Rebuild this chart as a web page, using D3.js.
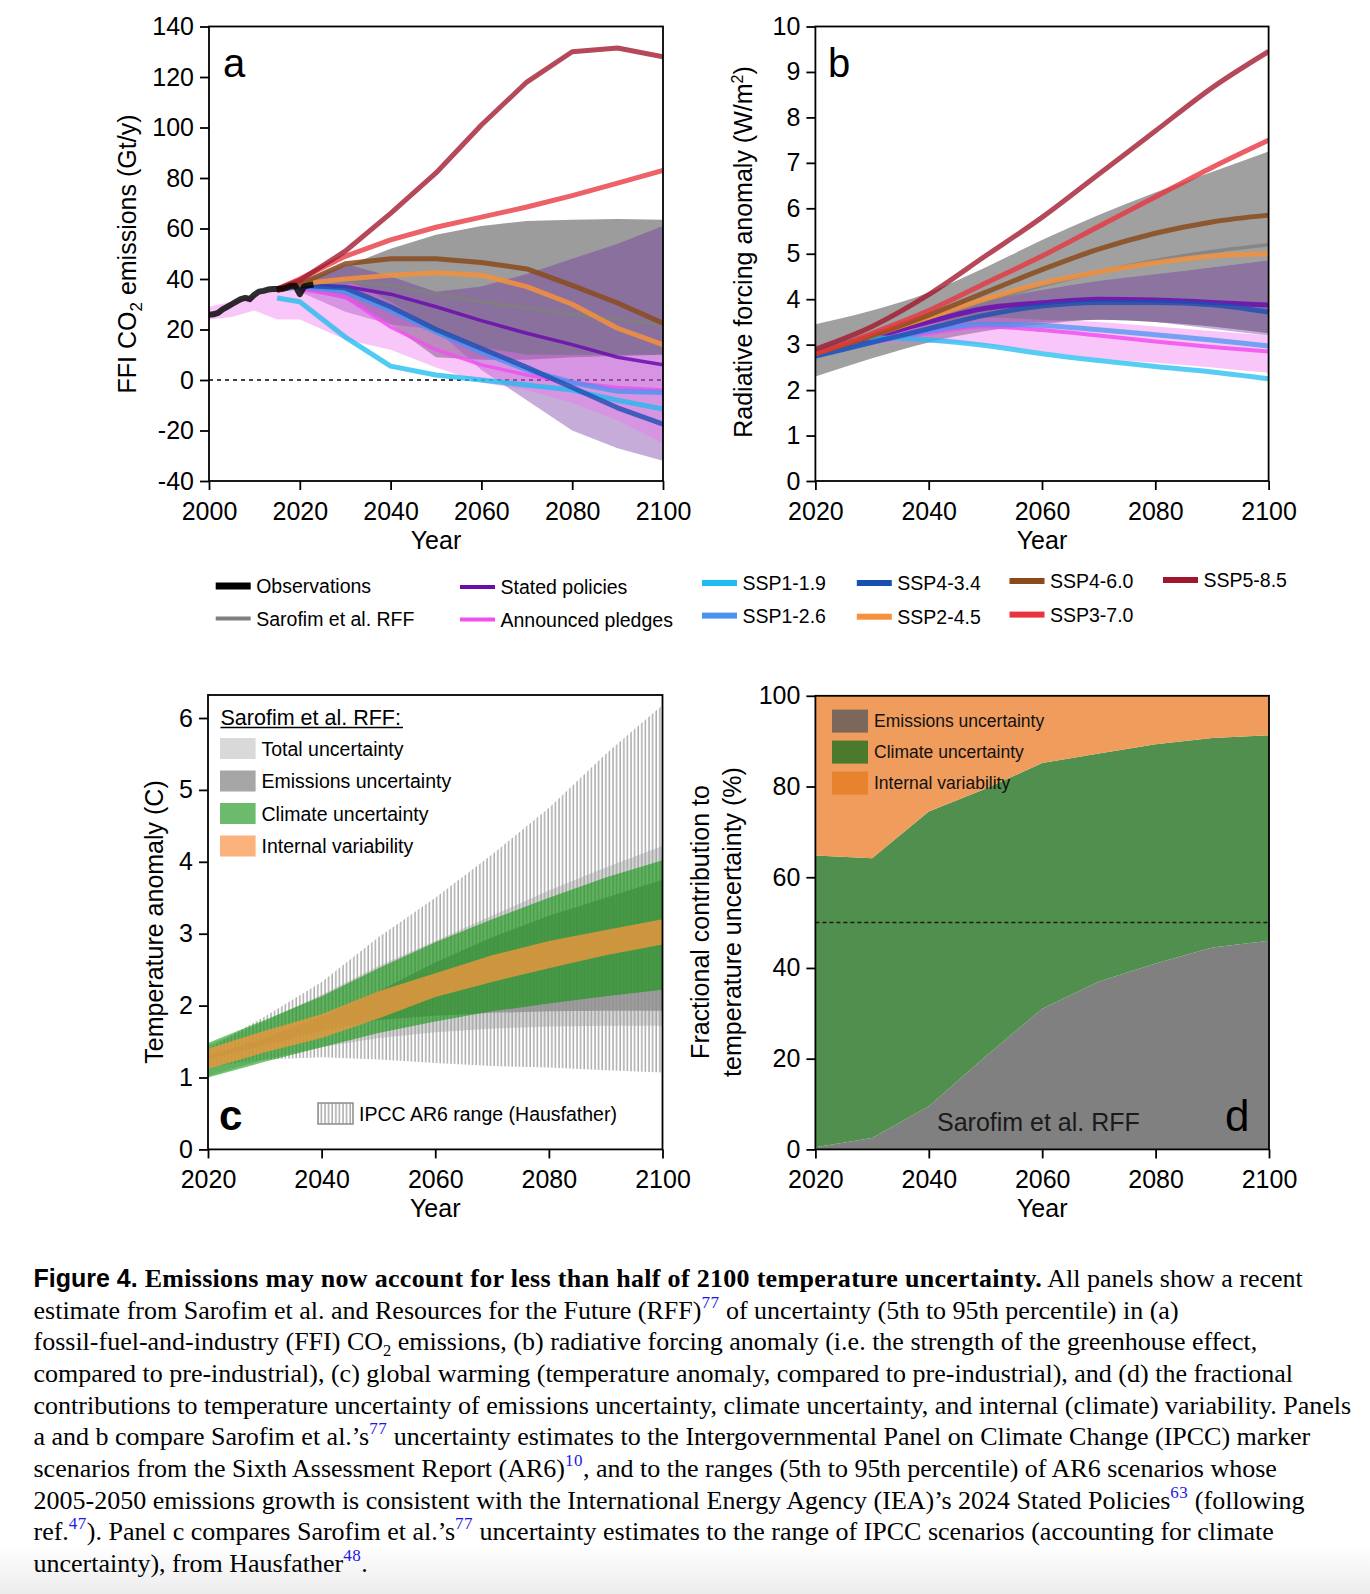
<!DOCTYPE html>
<html>
<head>
<meta charset="utf-8">
<script src="https://cdn.jsdelivr.net/npm/d3@7"></script>
<style>
  body { margin: 0; background: #fff; }
  svg { display: block; }
</style>
</head>
<body>
<svg id="fig" width="1370" height="1594"></svg>
<script>
// ---------------- data ----------------
var decades = [2020, 2030, 2040, 2050, 2060, 2070, 2080, 2090, 2100];
var sspYears = [2015, 2020, 2030, 2040, 2050, 2060, 2070, 2080, 2090, 2100];

// panel a: FFI CO2 emissions (Gt/y)
var obsYears = [2000, 2001, 2002, 2003, 2004, 2005, 2006, 2007, 2008, 2009, 2010, 2011,
                2012, 2013, 2014, 2015, 2016, 2017, 2018, 2019, 2020, 2021, 2022, 2023];
var obsCO2 = [25.8, 26, 26.6, 28, 29, 30, 31, 32, 32.5, 32, 33.8, 35, 35.3, 35.8, 36,
              36, 36.1, 36.6, 37.3, 37.3, 34, 37.1, 37.5, 37.8];
var ssp119A = [32.5, 31, 17, 5.5, 2, 0, -2, -4, -8, -11.5];
var ssp126A = [35.5, 37, 35, 27.5, 19, 11, 4, -1, -4.5, -5];
var ssp245A = [35.5, 38, 40, 41.5, 42.5, 41.5, 37, 30, 20.5, 14];
var ssp334A = [35.5, 37.5, 36.5, 29, 20, 12.5, 5, -3, -11, -17.5];
var ssp460A = [35.5, 38, 46, 48, 48, 46.5, 44, 37.5, 30.5, 22.5];
var ssp370A = [36, 40, 49, 55.5, 60.5, 64.5, 68.5, 73, 78, 83];
var ssp585A = [36, 39.5, 51, 66, 82, 101, 118, 130, 131.5, 128];
var statedA = [37.5, 37, 34, 29, 23.5, 18.5, 14, 9, 6];
var pledgesA = [36, 33, 21, 12, 6, 2, -1, -3, -4];
var sarofimA = [38, 39, 37.5, 34, 31, 28.5, 26, 24, 22];
var sarofimAHi = [38.5, 45, 52, 57.5, 61, 63, 63.5, 63.8, 63.5];
var sarofimALo = [36, 32, 22, 9, 8, 8, 9, 9.5, 10];
var statedAHi = [39, 46, 41, 35, 37, 42, 48, 54, 61];
var statedALo = [35, 27, 22, 20, 4, -8, -20, -27, -32];
var pledgeBandYears = [2000, 2005, 2010, 2015, 2020, 2025, 2030, 2040, 2050, 2060, 2070, 2080, 2090, 2100];
var pledgesAHi = [29, 31, 33.5, 35.5, 37.5, 39, 40, 31, 20, 13, 10, 10, 10, 10];
var pledgesALo = [24, 25, 27.5, 24, 24, 20, 16, 12, 5, -1, -4, -9, -16, -25];

// panel b: radiative forcing anomaly (W/m2)
var ssp119B = [2.85, 3.15, 3.1, 2.98, 2.8, 2.65, 2.52, 2.4, 2.25];
var ssp126B = [2.75, 3.05, 3.3, 3.45, 3.42, 3.33, 3.22, 3.1, 2.97];
var ssp245B = [2.8, 3.2, 3.6, 4.0, 4.35, 4.6, 4.8, 4.95, 5.0];
var ssp334B = [2.75, 3.05, 3.35, 3.65, 3.85, 3.93, 3.93, 3.88, 3.72];
var ssp460B = [2.8, 3.2, 3.65, 4.15, 4.65, 5.1, 5.45, 5.7, 5.85];
var ssp370B = [2.8, 3.25, 3.75, 4.35, 4.95, 5.6, 6.25, 6.9, 7.5];
var ssp585B = [2.9, 3.4, 4.1, 4.95, 5.8, 6.75, 7.7, 8.65, 9.45];
var statedB = [2.8, 3.15, 3.5, 3.8, 3.92, 4.0, 3.98, 3.93, 3.87];
var pledgesB = [2.75, 3.05, 3.25, 3.4, 3.32, 3.2, 3.07, 2.95, 2.85];
var sarofimB = [2.85, 3.2, 3.6, 3.95, 4.3, 4.6, 4.85, 5.05, 5.2];
var sarofimBHi = [3.45, 3.75, 4.15, 4.7, 5.3, 5.85, 6.35, 6.8, 7.25];
var sarofimBLo = [2.3, 2.7, 3.05, 3.3, 3.45, 3.55, 3.5, 3.4, 3.25];
var statedBHi = [2.85, 3.2, 3.55, 3.95, 4.2, 4.4, 4.55, 4.7, 4.85];
var statedBLo = [2.7, 3.05, 3.25, 3.4, 3.5, 3.55, 3.5, 3.35, 3.2];
var pledgesBHi = [2.8, 3.15, 3.45, 3.6, 3.55, 3.5, 3.4, 3.3, 3.2];
var pledgesBLo = [2.7, 3.0, 3.05, 3.0, 2.85, 2.7, 2.6, 2.5, 2.38];

// panel c: temperature anomaly (C)
var ipccHi = [1.4, 1.85, 2.33, 2.95, 3.5, 4.1, 4.75, 5.5, 6.18];
var ipccLo = [1.15, 1.25, 1.28, 1.25, 1.2, 1.16, 1.14, 1.1, 1.07];
var totalHi = [1.45, 1.78, 2.15, 2.55, 2.9, 3.25, 3.6, 3.92, 4.22];
var totalLo = [1.02, 1.25, 1.42, 1.55, 1.63, 1.68, 1.71, 1.72, 1.72];
var emisHi = [1.3, 1.55, 1.85, 2.2, 2.6, 2.95, 3.25, 3.5, 3.75];
var emisLo = [1.25, 1.45, 1.65, 1.8, 1.86, 1.9, 1.92, 1.93, 1.93];
var climHi = [1.48, 1.8, 2.13, 2.52, 2.88, 3.2, 3.5, 3.78, 4.02];
var climLo = [1.0, 1.22, 1.42, 1.62, 1.78, 1.92, 2.03, 2.13, 2.22];
var internalHi = [1.4, 1.65, 1.88, 2.2, 2.45, 2.7, 2.9, 3.05, 3.2];
var internalLo = [1.12, 1.35, 1.55, 1.82, 2.12, 2.33, 2.52, 2.7, 2.85];

// panel d: fractional contribution (%)
var emisShare = [0.5, 2.5, 9.5, 20.5, 31, 37, 41, 44.5, 46];
var climShare = [64.3, 61.7, 65, 59, 54.2, 50.3, 48.3, 46.2, 45.3];
var internalShare = [35.2, 35.8, 25.5, 20.5, 14.8, 12.7, 10.7, 9.3, 8.7];

// tick labels
var ticksA_x = [2000, 2020, 2040, 2060, 2080, 2100];
var ticksA_y = [-40, -20, 0, 20, 40, 60, 80, 100, 120, 140];
var ticksB_x = [2020, 2040, 2060, 2080, 2100];
var ticksB_y = [0, 1, 2, 3, 4, 5, 6, 7, 8, 9, 10];
var ticksC_y = [0, 1, 2, 3, 4, 5, 6];
var ticksD_y = [0, 20, 40, 60, 80, 100];

// ---------------- helpers ----------------
var SANS = '"Liberation Sans", Arial, Helvetica, sans-serif';
var SERIF = '"Liberation Serif", "Times New Roman", Times, serif';
var svg = d3.select("#fig");
var defs = svg.append("defs");

function zip(xs, ys) { return xs.map(function (x, i) { return [x, ys[i]]; }); }
function band(xs, lo, hi) { return xs.map(function (x, i) { return [x, lo[i], hi[i]]; }); }

function setupPanel(id, box, xDom, yDom) {
  var x = d3.scaleLinear().domain(xDom).range([box.x0, box.x1]);
  var y = d3.scaleLinear().domain(yDom).range([box.y1, box.y0]);
  defs.append("clipPath").attr("id", "clip-" + id).append("rect")
      .attr("x", box.x0).attr("y", box.y0)
      .attr("width", box.x1 - box.x0).attr("height", box.y1 - box.y0);
  var g = svg.append("g").attr("class", "panel-" + id);
  var plot = g.append("g").attr("clip-path", "url(#clip-" + id + ")");
  return { box: box, x: x, y: y, g: g, plot: plot };
}

function finishAxes(p, xTicks, yTicks) {
  var xa = p.g.append("g").attr("transform", "translate(0," + p.box.y1 + ")")
      .call(d3.axisBottom(p.x).tickValues(xTicks).tickFormat(d3.format("d")).tickSize(9).tickPadding(12));
  var ya = p.g.append("g").attr("transform", "translate(" + p.box.x0 + ",0)")
      .call(d3.axisLeft(p.y).tickValues(yTicks).tickFormat(function (d) { return String(d); }).tickSize(9).tickPadding(6));
  [xa, ya].forEach(function (a) {
    a.select(".domain").remove();
    a.selectAll("line").attr("stroke", "#000").attr("stroke-width", 1.8);
    a.selectAll("text").attr("font-family", SANS).attr("font-size", 25).attr("fill", "#000");
  });
  p.g.append("rect")
      .attr("x", p.box.x0).attr("y", p.box.y0)
      .attr("width", p.box.x1 - p.box.x0).attr("height", p.box.y1 - p.box.y0)
      .attr("fill", "none").attr("stroke", "#000").attr("stroke-width", 1.8);
  p.g.append("text")
      .attr("x", (p.box.x0 + p.box.x1) / 2).attr("y", p.box.y1 + 68)
      .attr("text-anchor", "middle").attr("font-family", SANS).attr("font-size", 25)
      .text("Year");
}

function drawBand(p, data, fill, opacity, curve) {
  var area = d3.area()
      .x(function (d) { return p.x(d[0]); })
      .y0(function (d) { return p.y(d[1]); })
      .y1(function (d) { return p.y(d[2]); })
      .curve(curve || d3.curveLinear);
  p.plot.append("path").datum(data).attr("d", area)
      .attr("fill", fill).attr("fill-opacity", opacity);
}

function drawLine(p, data, color, width, opacity, curve) {
  var line = d3.line()
      .x(function (d) { return p.x(d[0]); })
      .y(function (d) { return p.y(d[1]); })
      .curve(curve || d3.curveLinear);
  p.plot.append("path").datum(data).attr("d", line)
      .attr("fill", "none").attr("stroke", color).attr("stroke-width", width)
      .attr("stroke-opacity", opacity).attr("stroke-linejoin", "round").attr("stroke-linecap", "butt");
}

function yTitle(x, yc, parts) {
  var t = svg.append("text")
      .attr("transform", "translate(" + x + "," + yc + ") rotate(-90)")
      .attr("text-anchor", "middle").attr("font-family", SANS).attr("font-size", 25);
  parts.forEach(function (pt) {
    var s = t.append("tspan").text(pt.t);
    if (pt.dy) s.attr("dy", pt.dy);
    if (pt.size) s.attr("font-size", pt.size);
  });
}

var colors = {
  ssp119: "#1fbcf0", ssp126: "#4a94f0", ssp334: "#1a4fb2", ssp245: "#f5913c",
  ssp460: "#8a4a1c", ssp370: "#e8343f", ssp585: "#a0162c",
  stated: "#6a0dad", pledges: "#f050f0", sarofim: "#808080", obs: "#000"
};

// ---------------- panel a ----------------
var pa = setupPanel("a", { x0: 209, x1: 663, y0: 26.5, y1: 481 }, [2000, 2100], [-40, 140]);
pa.plot.append("line")
    .attr("x1", pa.x(2000)).attr("x2", pa.x(2100)).attr("y1", pa.y(0)).attr("y2", pa.y(0))
    .attr("stroke", "#000").attr("stroke-width", 1.6).attr("stroke-dasharray", "4,4");
drawBand(pa, band(decades, sarofimALo, sarofimAHi), "#999999", 0.97);
drawBand(pa, band(decades, statedALo, statedAHi), "#7030a0", 0.4);
drawBand(pa, band(pledgeBandYears, pledgesALo, pledgesAHi), "#f070f0", 0.4);
drawLine(pa, zip(decades, sarofimA), colors.sarofim, 3.5, 0.8);
drawLine(pa, zip(decades, pledgesA), colors.pledges, 3.5, 0.85);
drawLine(pa, zip(decades, statedA), colors.stated, 3.5, 0.85);
drawLine(pa, zip(sspYears, ssp119A), colors.ssp119, 5, 0.78);
drawLine(pa, zip(sspYears, ssp126A), colors.ssp126, 5, 0.8);
drawLine(pa, zip(sspYears, ssp334A), colors.ssp334, 5, 0.8);
drawLine(pa, zip(sspYears, ssp245A), colors.ssp245, 5, 0.85);
drawLine(pa, zip(sspYears, ssp460A), colors.ssp460, 5, 0.85);
drawLine(pa, zip(sspYears, ssp370A), colors.ssp370, 5, 0.78);
drawLine(pa, zip(sspYears, ssp585A), colors.ssp585, 5, 0.78);
drawLine(pa, zip(obsYears, obsCO2), colors.obs, 6, 0.82);
finishAxes(pa, ticksA_x, ticksA_y);
pa.g.append("text").attr("x", 223).attr("y", 77).attr("font-family", SANS).attr("font-size", 40).text("a");
yTitle(136, 254, [{ t: "FFI CO" }, { t: "2", dy: 6, size: 17 }, { t: " emissions (Gt/y)", dy: -6 }]);

// ---------------- panel b ----------------
var pb = setupPanel("b", { x0: 815.4, x1: 1268.6, y0: 26.5, y1: 481 }, [2020, 2100], [0, 10]);
var smooth = d3.curveMonotoneX;
drawBand(pb, band(decades, sarofimBLo, sarofimBHi), "#a0a0a0", 1, smooth);
drawBand(pb, band(decades, statedBLo, statedBHi), "#7030a0", 0.4, smooth);
drawBand(pb, band(decades, pledgesBLo, pledgesBHi), "#f070f0", 0.4, smooth);
drawLine(pb, zip(decades, sarofimB), colors.sarofim, 3.5, 0.8, smooth);
drawLine(pb, zip(decades, pledgesB), colors.pledges, 4, 0.85, smooth);
drawLine(pb, zip(decades, statedB), colors.stated, 5, 0.85, smooth);
drawLine(pb, zip(decades, ssp119B), colors.ssp119, 5, 0.75, smooth);
drawLine(pb, zip(decades, ssp126B), colors.ssp126, 5, 0.75, smooth);
drawLine(pb, zip(decades, ssp334B), colors.ssp334, 5, 0.8, smooth);
drawLine(pb, zip(decades, ssp245B), colors.ssp245, 5, 0.85, smooth);
drawLine(pb, zip(decades, ssp460B), colors.ssp460, 5, 0.85, smooth);
drawLine(pb, zip(decades, ssp370B), colors.ssp370, 5, 0.8, smooth);
drawLine(pb, zip(decades, ssp585B), colors.ssp585, 5, 0.78, smooth);
finishAxes(pb, ticksB_x, ticksB_y);
pb.g.append("text").attr("x", 828).attr("y", 77).attr("font-family", SANS).attr("font-size", 40).text("b");
yTitle(752, 252, [{ t: "Radiative forcing anomaly (W/m" }, { t: "2", dy: -9, size: 16 }, { t: ")", dy: 9 }]);

// ---------------- shared legend ----------------
var legendItems = [
  { label: "Observations", color: colors.obs, x: 215.7, y: 586, h: 7 },
  { label: "Sarofim et al. RFF", color: colors.sarofim, x: 215.7, y: 618.5, h: 4 },
  { label: "Stated policies", color: colors.stated, x: 460, y: 587, h: 4 },
  { label: "Announced pledges", color: colors.pledges, x: 460, y: 619.5, h: 4 },
  { label: "SSP1-1.9", color: colors.ssp119, x: 702, y: 583, h: 6 },
  { label: "SSP1-2.6", color: colors.ssp126, x: 702, y: 615.6, h: 6 },
  { label: "SSP4-3.4", color: colors.ssp334, x: 856.8, y: 583, h: 6 },
  { label: "SSP2-4.5", color: colors.ssp245, x: 856.8, y: 616.7, h: 6 },
  { label: "SSP4-6.0", color: colors.ssp460, x: 1009.5, y: 581, h: 6 },
  { label: "SSP3-7.0", color: colors.ssp370, x: 1009.5, y: 614.6, h: 6 },
  { label: "SSP5-8.5", color: colors.ssp585, x: 1163, y: 580, h: 6 }
];
var leg = svg.append("g").attr("class", "legend");
legendItems.forEach(function (d) {
  leg.append("rect").attr("x", d.x).attr("y", d.y - d.h / 2).attr("width", 35).attr("height", d.h)
      .attr("fill", d.color);
  leg.append("text").attr("x", d.x + 40.5).attr("y", d.y + 7)
      .attr("font-family", SANS).attr("font-size", 19.5).text(d.label);
});

// ---------------- panel c ----------------
var pc = setupPanel("c", { x0: 208, x1: 662.5, y0: 695, y1: 1149.4 }, [2020, 2100], [0, 6.32]);
var hatch = defs.append("pattern").attr("id", "hatch").attr("patternUnits", "userSpaceOnUse")
    .attr("width", 3.6).attr("height", 10);
hatch.append("line").attr("x1", 1).attr("x2", 1).attr("y1", 0).attr("y2", 10)
    .attr("stroke", "#8c8c8c").attr("stroke-width", 1.1);
drawBand(pc, band(decades, ipccLo, ipccHi), "url(#hatch)", 1);
drawBand(pc, band(decades, totalLo, totalHi), "#9e9e9e", 0.42);
drawBand(pc, band(decades, emisLo, emisHi), "#8e8e8e", 0.79);
drawBand(pc, band(decades, climLo, climHi), "rgb(0,150,0)", 0.55);
drawBand(pc, band(decades, internalLo, internalHi), "rgb(250,150,60)", 0.75);
finishAxes(pc, ticksB_x, ticksC_y);
yTitle(163, 922, [{ t: "Temperature anomaly (C)" }]);
pc.g.append("text").attr("x", 219).attr("y", 1129.5).attr("font-family", SANS)
    .attr("font-size", 42).attr("font-weight", "bold").text("c");

var legC = pc.g.append("g");
legC.append("text").attr("x", 220.5).attr("y", 724.5).attr("font-family", SANS).attr("font-size", 21.5)
    .text("Sarofim et al. RFF:");
legC.append("line").attr("x1", 220.5).attr("x2", 403).attr("y1", 727.5).attr("y2", 727.5)
    .attr("stroke", "#000").attr("stroke-width", 1.3);
var legCItems = [
  { label: "Total uncertainty", color: "#d9d9d9" },
  { label: "Emissions uncertainty", color: "#a6a6a6" },
  { label: "Climate uncertainty", color: "#6cbb6c" },
  { label: "Internal variability", color: "#fbb27c" }
];
legCItems.forEach(function (d, i) {
  var top = 738 + i * 32.5;
  legC.append("rect").attr("x", 220).attr("y", top).attr("width", 35.6).attr("height", 21).attr("fill", d.color);
  legC.append("text").attr("x", 261.5).attr("y", top + 17.5).attr("font-family", SANS).attr("font-size", 19.5)
      .text(d.label);
});
legC.append("rect").attr("x", 318).attr("y", 1103).attr("width", 35).attr("height", 21)
    .attr("fill", "url(#hatch)").attr("stroke", "#8c8c8c").attr("stroke-width", 1.5);
legC.append("text").attr("x", 359).attr("y", 1120.5).attr("font-family", SANS).attr("font-size", 19.5)
    .text("IPCC AR6 range (Hausfather)");

// ---------------- panel d ----------------
var pd = setupPanel("d", { x0: 815.4, x1: 1269, y0: 695.8, y1: 1149.4 }, [2020, 2100], [0, 100]);
var shareTable = decades.map(function (yr, i) {
  return { year: yr, emis: emisShare[i], clim: climShare[i], internal: internalShare[i] };
});
var stacked = d3.stack().keys(["emis", "clim", "internal"])(shareTable);
var shareFill = { emis: "#808080", clim: "#508f4d", internal: "#ef9c5d" };
var stackArea = d3.area()
    .x(function (d) { return pd.x(d.data.year); })
    .y0(function (d) { return pd.y(d[0]); })
    .y1(function (d) { return pd.y(d[1]); });
pd.plot.selectAll("path.layer").data(stacked).enter().append("path")
    .attr("class", "layer").attr("d", stackArea)
    .attr("fill", function (d) { return shareFill[d.key]; });
pd.plot.append("line")
    .attr("x1", pd.x(2020)).attr("x2", pd.x(2100)).attr("y1", pd.y(50)).attr("y2", pd.y(50))
    .attr("stroke", "#1a1a1a").attr("stroke-width", 1.5).attr("stroke-dasharray", "4,3");
finishAxes(pd, ticksB_x, ticksD_y);
var legD = pd.g.append("g");
[{ label: "Emissions uncertainty", color: "#7b675c" },
 { label: "Climate uncertainty", color: "#4b7a2c" },
 { label: "Internal variability", color: "#e8822e" }].forEach(function (d, i) {
  var top = 709.6 + i * 31;
  legD.append("rect").attr("x", 832).attr("y", top).attr("width", 36).attr("height", 23).attr("fill", d.color);
  legD.append("text").attr("x", 874).attr("y", top + 17.3).attr("font-family", SANS).attr("font-size", 17.5)
      .attr("fill", "#111").text(d.label);
});
pd.g.append("text").attr("x", 937).attr("y", 1131).attr("font-family", SANS).attr("font-size", 25)
    .attr("fill", "#1a1a1a").text("Sarofim et al. RFF");
pd.g.append("text").attr("x", 1225).attr("y", 1131).attr("font-family", SANS).attr("font-size", 44)
    .text("d");
yTitle(709, 922, [{ t: "Fractional contribution to" }]);
yTitle(741, 922, [{ t: "temperature uncertainty (%)" }]);

// ---------------- caption ----------------
var captionLines = [
  [["Figure 4. ", "fig"], ["Emissions may now account for less than half of 2100 temperature uncertainty.", "b"], [" All panels show a recent", ""]],
  [["estimate from Sarofim et al. and Resources for the Future (RFF)", ""], ["77", "sup"], [" of uncertainty (5th to 95th percentile) in (a)", ""]],
  [["fossil-fuel-and-industry (FFI) CO", ""], ["2", "sub"], [" emissions, (b) radiative forcing anomaly (i.e. the strength of the greenhouse effect,", ""]],
  [["compared to pre-industrial), (c) global warming (temperature anomaly, compared to pre-industrial), and (d) the fractional", ""]],
  [["contributions to temperature uncertainty of emissions uncertainty, climate uncertainty, and internal (climate) variability. Panels", ""]],
  [["a and b compare Sarofim et al.\u2019s", ""], ["77", "sup"], [" uncertainty estimates to the Intergovernmental Panel on Climate Change (IPCC) marker", ""]],
  [["scenarios from the Sixth Assessment Report (AR6)", ""], ["10", "sup"], [", and to the ranges (5th to 95th percentile) of AR6 scenarios whose", ""]],
  [["2005-2050 emissions growth is consistent with the International Energy Agency (IEA)\u2019s 2024 Stated Policies", ""], ["63", "sup"], [" (following", ""]],
  [["ref.", ""], ["47", "sup"], ["). Panel c compares Sarofim et al.\u2019s", ""], ["77", "sup"], [" uncertainty estimates to the range of IPCC scenarios (accounting for climate", ""]],
  [["uncertainty), from Hausfather", ""], ["48", "sup"], [".", ""]]
];
var grad = defs.append("linearGradient").attr("id", "bottomfade").attr("x1", 0).attr("x2", 0).attr("y1", 0).attr("y2", 1);
grad.append("stop").attr("offset", "0").attr("stop-color", "#fff");
grad.append("stop").attr("offset", "1").attr("stop-color", "#ececec");
svg.insert("rect", ":first-child").attr("x", 0).attr("y", 1545).attr("width", 1370).attr("height", 49)
    .attr("fill", "url(#bottomfade)");

var cap = svg.append("g").attr("class", "caption");
captionLines.forEach(function (line, li) {
  var t = cap.append("text").attr("x", 33.5).attr("y", 1287 + li * 31.67)
      .attr("font-family", SERIF).attr("font-size", 26).attr("fill", "#000");
  var shift = 0;
  line.forEach(function (seg) {
    var s = t.append("tspan").text(seg[0]);
    var target = 0;
    if (seg[1] === "fig") { s.attr("font-family", SANS).attr("font-weight", "bold").attr("font-size", 25); }
    if (seg[1] === "b") { s.attr("font-weight", "bold").attr("letter-spacing", 0.3); }
    if (seg[1] === "sup") { s.attr("font-size", 17).attr("fill", "#1a1ae6").attr("letter-spacing", 0.5); target = -11; }
    if (seg[1] === "sub") { s.attr("font-size", 16.5); target = 6; }
    if (target !== shift) { s.attr("dy", target - shift); shift = target; }
  });
});
</script>
</body>
</html>
